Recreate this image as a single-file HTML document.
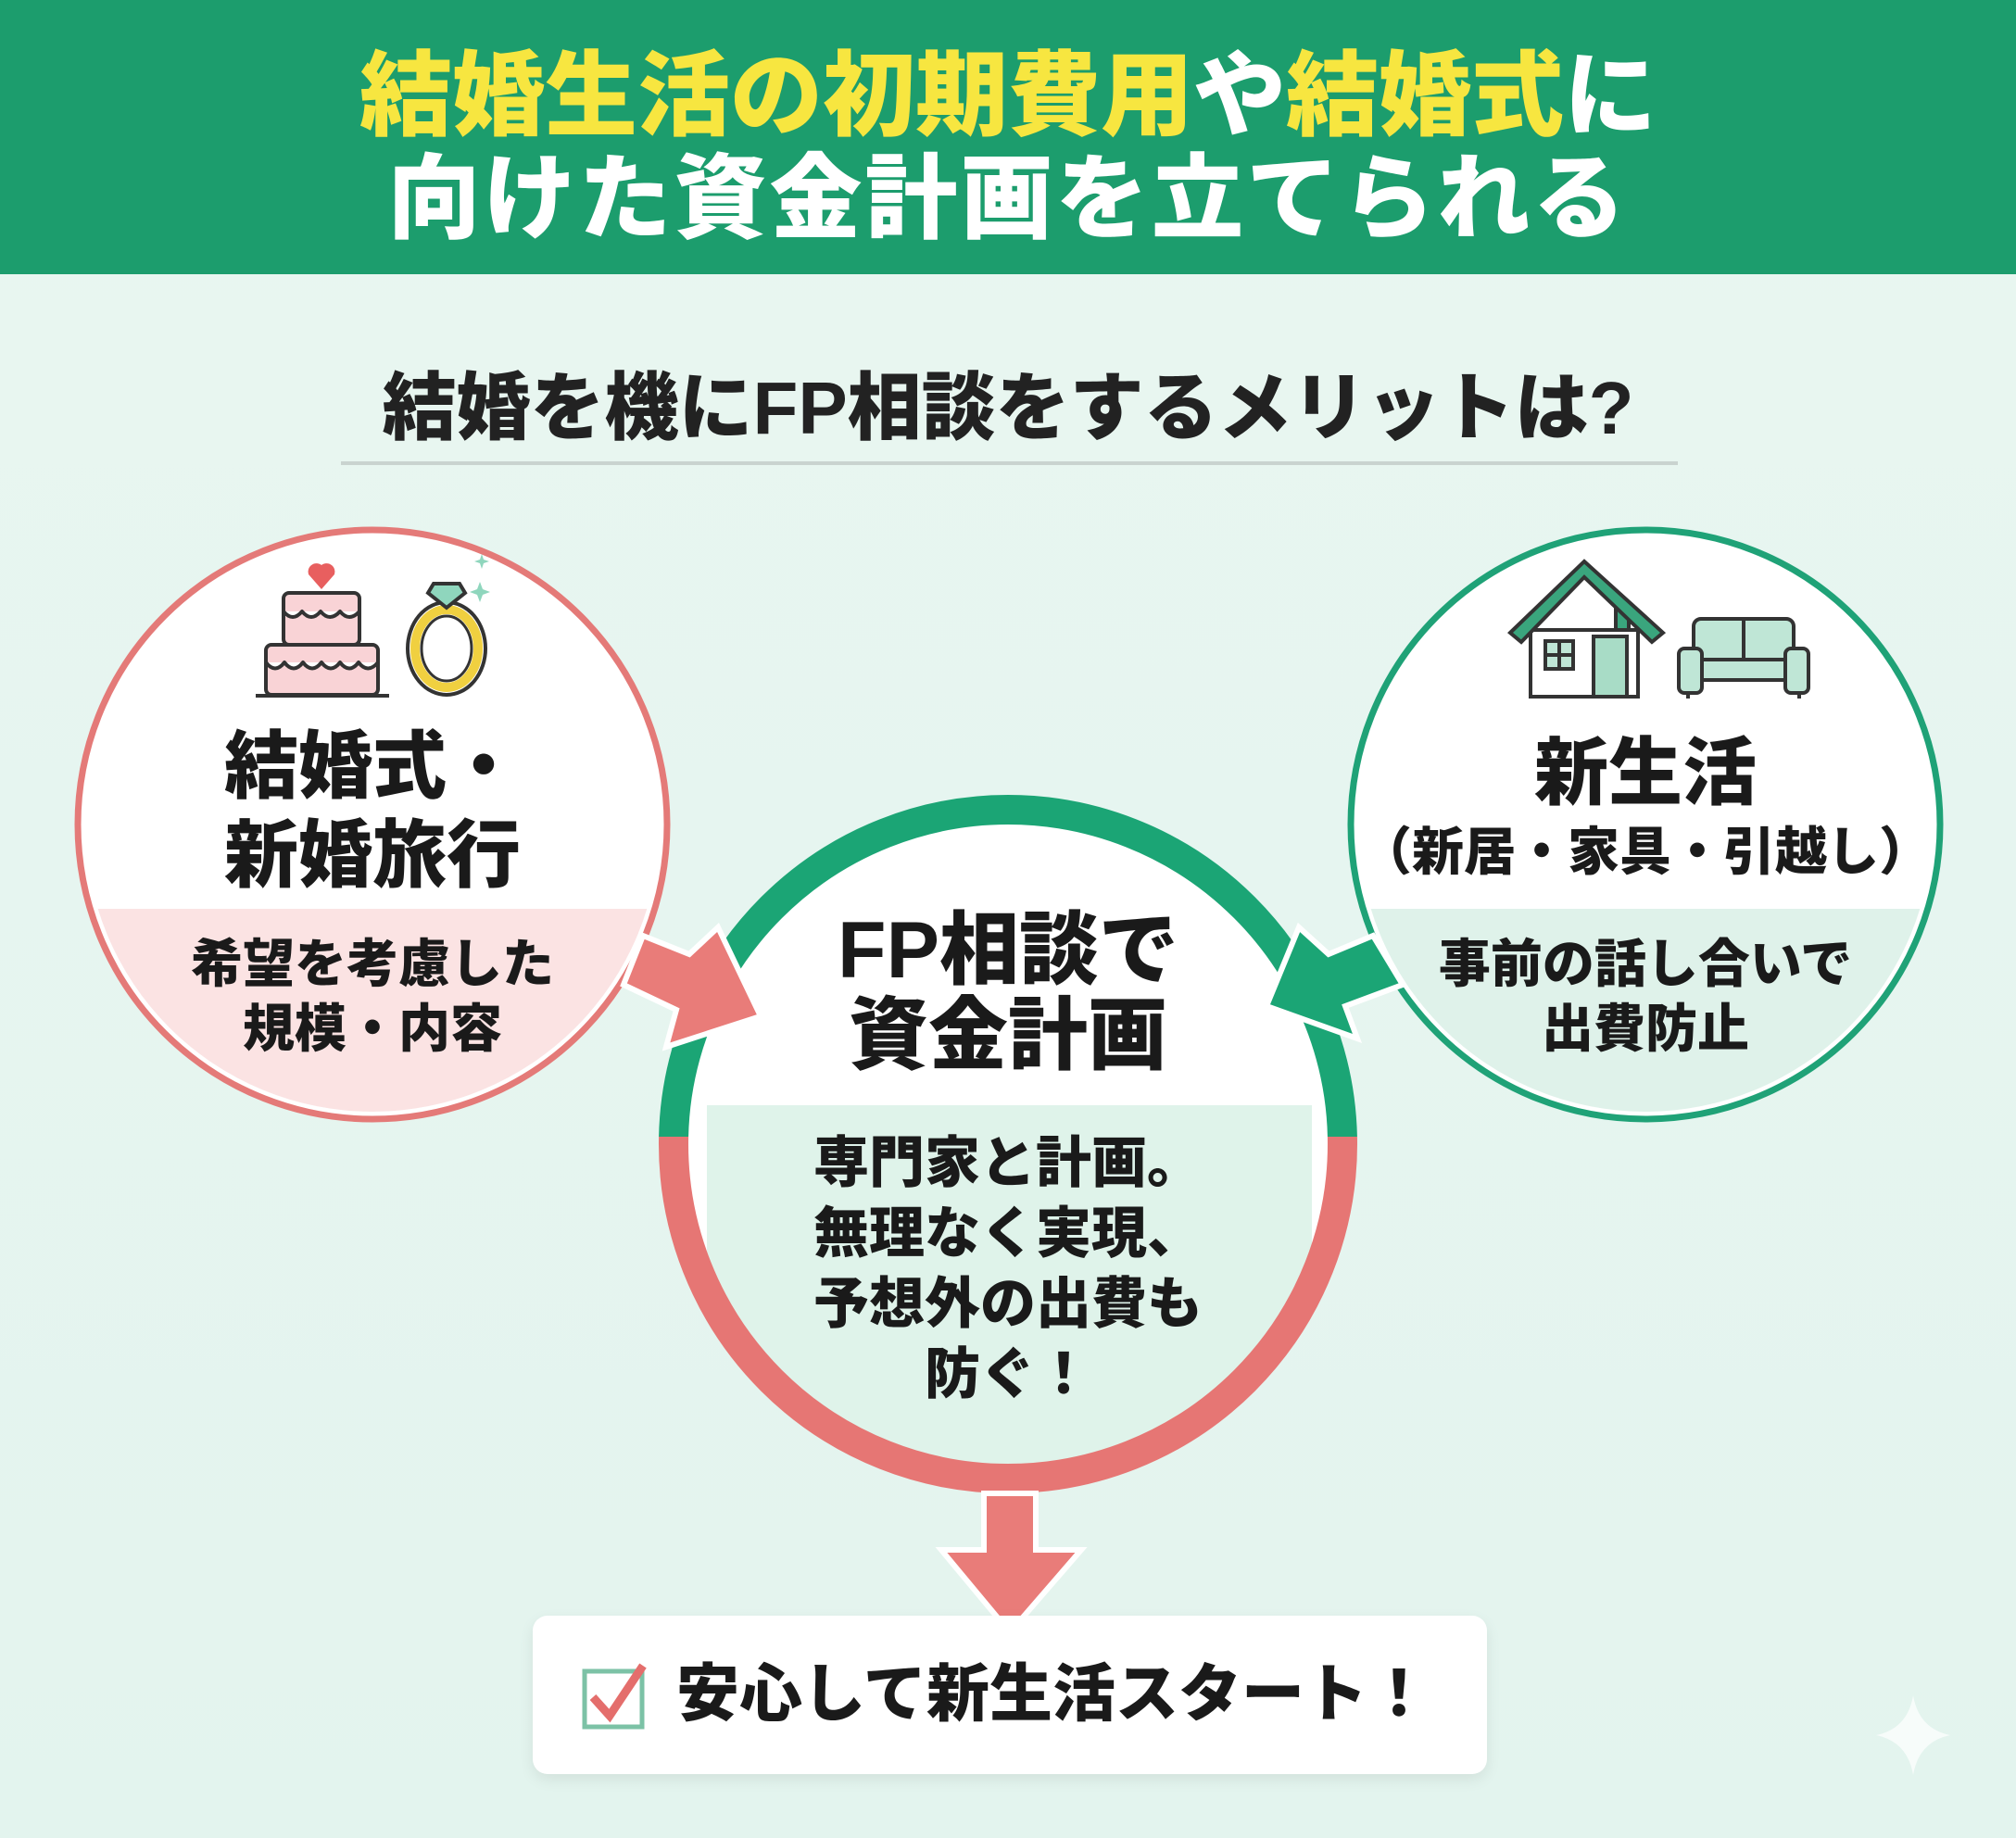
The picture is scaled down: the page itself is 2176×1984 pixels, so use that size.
<!DOCTYPE html>
<html><head><meta charset="utf-8"><style>
*{margin:0;padding:0;box-sizing:border-box}
body{width:2176px;height:1984px;overflow:hidden;background:linear-gradient(180deg,#e9f6f1,#e3f4ee);font-family:"Liberation Sans","Noto Sans CJK JP",sans-serif;font-weight:bold;color:#1a1a1a;position:relative}
.t{position:absolute;text-align:center;white-space:nowrap;font-weight:900}
</style></head><body>
<div style="position:absolute;left:0;top:0;width:2176px;height:296px;background:#1c9d6d"></div>
<div class="t" style="left:0;width:2176px;top:49px;font-size:100px;line-height:110px;color:#fff"><span style="color:#f7e640">結婚生活の初期費用</span>や<span style="color:#f7e640">結婚式</span>に</div>
<div class="t" style="left:0;width:2176px;top:160px;font-size:100px;line-height:110px;color:#fff;letter-spacing:3px">向けた資金計画を立てられる</div>
<div class="t" style="left:0;width:2176px;top:393px;font-size:80px;line-height:96px;color:#222">結婚を機にFP相談をするメリットは?</div>
<div style="position:absolute;left:368px;top:498px;width:1443px;height:4px;background:#c9d3cf"></div>

<svg width="2176" height="1984" style="position:absolute;left:0;top:0">
<defs>
<clipPath id="cl"><circle cx="402" cy="890" r="310"/></clipPath>
<clipPath id="cr"><circle cx="1776" cy="890" r="310"/></clipPath>
<clipPath id="cc"><circle cx="1088" cy="1235" r="350"/></clipPath>
<clipPath id="top"><rect x="0" y="0" width="2176" height="1227"/></clipPath>
<clipPath id="bot"><rect x="0" y="1227" width="2176" height="800"/></clipPath>
</defs>
<circle cx="402" cy="890" r="318" fill="#fff" stroke="#e47a78" stroke-width="7"/>
<rect x="60" y="981" width="700" height="300" fill="#fbe3e3" clip-path="url(#cl)"/>
<circle cx="1776" cy="890" r="318" fill="#fff" stroke="#1fa277" stroke-width="7"/>
<rect x="1430" y="981" width="700" height="300" fill="#dff2ea" clip-path="url(#cr)"/>
<circle cx="1088" cy="1235" r="361" fill="#fff"/>
<rect x="763" y="1193" width="653" height="450" fill="#dff3ea" clip-path="url(#cc)"/>
<circle cx="1088" cy="1235" r="361" fill="none" stroke="#1ba575" stroke-width="32" clip-path="url(#top)"/>
<circle cx="1088" cy="1235" r="361" fill="none" stroke="#e67674" stroke-width="32" clip-path="url(#bot)"/>
<polygon points="694,1010 744,1030 775,1001 821,1097 719,1130 730,1090 673,1063" fill="#e97c79" stroke="#fff" stroke-width="6" stroke-linejoin="miter"/>
<polygon points="1482,1010 1434,1030 1402,1001 1367,1086 1465,1121 1452,1086 1514,1063" fill="#1ba575" stroke="#fff" stroke-width="6"/>
<polygon points="1062,1612 1118,1612 1118,1673 1167,1673 1090,1762 1016,1673 1062,1673" fill="#e97c79" stroke="#fff" stroke-width="6"/>
<g stroke="#333" stroke-width="4" stroke-linejoin="round">
<rect x="306" y="640" width="82" height="56" rx="6" fill="#f9d3d6"/>
<path d="M306,660 q10,12 20,0 q10,12 20,0 q10,12 21,0 q10,12 21,0" fill="#fff"/>
<rect x="287" y="696" width="121" height="54" rx="6" fill="#f9d3d6"/>
<path d="M287,715 q10,13 20,0 q10,13 20,0 q10,13 20,0 q10,13 20,0 q10,13 20,0 q10,13 21,0" fill="#fff"/>
<line x1="276" y1="751" x2="420" y2="751"/>
</g>
<path d="M347,636 l-14,-16 a9,9 0 0 1 14,-10 a9,9 0 0 1 14,10z" fill="#e85f5f"/>
<ellipse cx="482" cy="700" rx="42" ry="50" fill="none" stroke="#333" stroke-width="4"/>
<ellipse cx="482" cy="700" rx="34" ry="42" fill="none" stroke="#f0d040" stroke-width="10"/>
<ellipse cx="482" cy="700" rx="27" ry="35" fill="#fff" stroke="#333" stroke-width="3"/>
<polygon points="468,630 496,630 502,640 482,656 462,640" fill="#8fd6bd" stroke="#333" stroke-width="4"/>
<path d="M518,628 l3,8 8,3 -8,3 -3,8 -3,-8 -8,-3 8,-3z M520,598 l2,6 6,2 -6,2 -2,6 -2,-6 -6,-2 6,-2z" fill="#8fd6bd"/>
<g stroke="#333" stroke-width="4">
<rect x="1744" y="655" width="14" height="40" fill="#3aa57d"/>
<rect x="1652" y="680" width="116" height="72" fill="#fff"/>
<polygon points="1630,683 1710,606 1795,683 1783,693 1710,623 1642,693" fill="#3aa57d"/>
<rect x="1668" y="692" width="30" height="30" fill="#bfe6d6"/>
<line x1="1683" y1="692" x2="1683" y2="722"/><line x1="1668" y1="707" x2="1698" y2="707"/>
<rect x="1720" y="687" width="36" height="65" fill="#a8dcc6"/>
<rect x="1828" y="668" width="108" height="58" rx="8" fill="#bfe6d6"/>
<line x1="1882" y1="668" x2="1882" y2="712"/>
<rect x="1812" y="700" width="25" height="48" rx="6" fill="#bfe6d6"/>
<rect x="1927" y="700" width="25" height="48" rx="6" fill="#bfe6d6"/>
<rect x="1837" y="712" width="90" height="22" fill="#bfe6d6"/>
<line x1="1822" y1="748" x2="1822" y2="754"/><line x1="1942" y1="748" x2="1942" y2="754"/>
</g>
<path d="M2065,1830 q6,36 40,43 q-34,7 -40,43 q-6,-36 -40,-43 q34,-7 40,-43z" fill="#fff" opacity="0.7"/>
</svg>

<div class="t" style="left:82px;width:640px;top:780px;font-size:80px;line-height:96px">結婚式・<br>新婚旅行</div>
<div class="t" style="left:82px;width:640px;top:1006px;font-size:56px;line-height:70px">希望を考慮した<br>規模・内容</div>

<div class="t" style="left:1456px;width:640px;top:790px;font-size:80px;line-height:90px">新生活</div>
<div class="t" style="left:1456px;width:640px;top:885px;font-size:56px;line-height:70px">（新居・家具・引越し）</div>
<div class="t" style="left:1456px;width:640px;top:1006px;font-size:56px;line-height:70px">事前の話し合いで<br>出費防止</div>

<div class="t" style="left:768px;width:640px;top:980px;font-size:86px;line-height:92px">FP相談で<br>資金計画</div>
<div class="t" style="left:768px;width:640px;top:1218px;font-size:60px;line-height:76px">専門家と計画。<br>無理なく実現、<br>予想外の出費も<br>防ぐ！</div>

<div style="position:absolute;left:575px;top:1744px;width:1030px;height:171px;background:#fff;border-radius:16px;box-shadow:0 6px 16px rgba(0,0,0,0.08)"></div>
<svg width="80" height="80" style="position:absolute;left:626px;top:1790px">
<rect x="5" y="14" width="62" height="60" fill="none" stroke="#7cc2a6" stroke-width="5"/>
<path d="M14,42 l18,20 l36,-54" fill="none" stroke="#e46e6c" stroke-width="9"/>
</svg>
<div class="t" style="left:730px;top:1788px;font-size:68px;line-height:82px">安心して新生活スタート！</div>
</body></html>
